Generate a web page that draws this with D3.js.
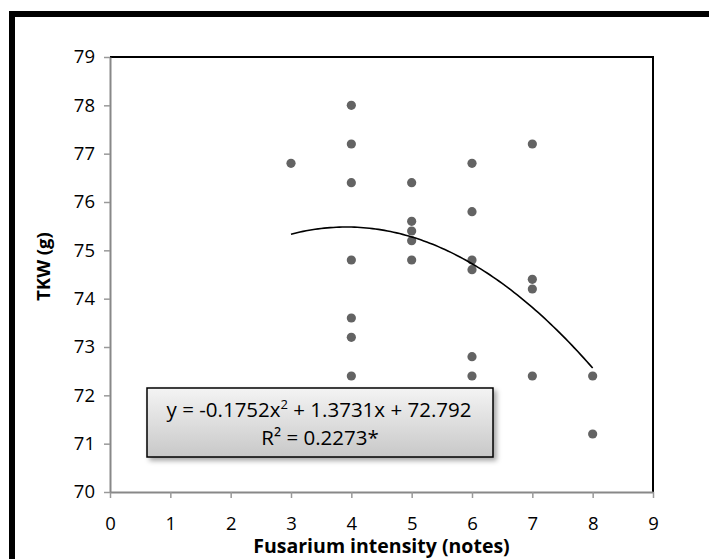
<!DOCTYPE html>
<html lang="en">
<head>
  <meta charset="UTF-8">
  <title>TKW vs Fusarium intensity</title>
  <script src="https://cdn.jsdelivr.net/npm/d3@7"></script>
  <style>
    body { margin: 0; background: #fff; }
    text { font-family: "Open Sans", sans-serif; }
  </style>
</head>
<body>
<svg></svg>
<script>
  const width = 709, height = 559
  const margin = {top: 57, right: 56, bottom: 67, left: 110}

  // observed points (Fusarium note, TKW)
  const notes = [3, 4, 4, 4, 4, 4, 4, 4, 5, 5, 5, 5, 5, 6, 6, 6, 6, 6, 6, 7, 7, 7, 7, 8, 8]
  const tkw = [76.8, 78, 77.2, 76.4, 74.8, 73.6, 73.2, 72.4, 76.4, 75.6, 75.4, 75.2, 74.8,
    76.8, 75.8, 74.8, 74.6, 72.8, 72.4, 77.2, 74.4, 74.2, 72.4, 72.4, 71.2]
  const xTicks = [0, 1, 2, 3, 4, 5, 6, 7, 8, 9]
  const yTicks = [70, 71, 72, 73, 74, 75, 76, 77, 78, 79]
  const coef = [-0.1752, 1.3731, 72.792]
  const fitRange = [3, 8]

  const svg = d3.select('svg')
      .attr('width', width)
      .attr('height', height)

  const x = d3.scaleLinear()
      .domain([0, 9])
      .range([margin.left, width - margin.right])

  const y = d3.scaleLinear()
      .domain([70, 79])
      .range([height - margin.bottom, margin.top])

  // outer frame (top and left edges only are visible)
  svg.append('path')
      .attr('d', `M12,${height} V14 H${width}`)
      .attr('fill', 'none')
      .attr('stroke', '#000')
      .attr('stroke-width', 6)

  // plot area border
  svg.append('path')
      .attr('d', `M${x(0)},${y(79)} H${x(9)} V${y(70)}`)
      .attr('fill', 'none')
      .attr('stroke', '#000')
      .attr('stroke-width', 2)

  const xAxis = svg.append('g')
      .attr('transform', `translate(0,${y(70)})`)
      .call(d3.axisBottom(x).tickValues(xTicks).tickFormat(d3.format('d')).tickSize(6).tickSizeOuter(0).tickPadding(19))

  const yAxis = svg.append('g')
      .attr('transform', `translate(${x(0)},0)`)
      .call(d3.axisLeft(y).tickValues(yTicks).tickFormat(d3.format('d')).tickSize(6).tickSizeOuter(0).tickPadding(9))

  for (const g of [xAxis, yAxis]) {
    g.select('.domain').attr('stroke', '#888').attr('stroke-width', 2)
    g.selectAll('.tick line').attr('stroke', '#999').attr('stroke-width', 1.5)
    g.selectAll('.tick text')
        .attr('fill', '#000')
        .style('font-size', '18.5px')
        .style('font-family', '"Open Sans", sans-serif')
  }

  // points
  svg.append('g')
      .selectAll('circle')
      .data(notes.map((n, i) => [n, tkw[i]]))
      .join('circle')
      .attr('cx', d => x(d[0]))
      .attr('cy', d => y(d[1]))
      .attr('r', 4.6)
      .attr('fill', '#636363')

  // polynomial trend line
  const fx = v => coef[0] * v * v + coef[1] * v + coef[2]
  const xs = d3.range(fitRange[0], fitRange[1] + 0.001, 0.05)
  svg.append('path')
      .datum(xs)
      .attr('fill', 'none')
      .attr('stroke', '#000')
      .attr('stroke-width', 1.6)
      .attr('d', d3.line().x(d => x(d)).y(d => y(fx(d))))

  // equation box
  const defs = svg.append('defs')
  const grad = defs.append('linearGradient')
      .attr('id', 'boxgrad')
      .attr('x1', 0).attr('y1', 0).attr('x2', 0).attr('y2', 1)
  grad.append('stop').attr('offset', '0%').attr('stop-color', '#f4f4f4')
  grad.append('stop').attr('offset', '100%').attr('stop-color', '#c8c8c8')
  const shadow = defs.append('filter').attr('id', 'shadow')
      .attr('x', '-10%').attr('y', '-10%').attr('width', '130%').attr('height', '140%')
  shadow.append('feDropShadow')
      .attr('dx', 3).attr('dy', 3).attr('stdDeviation', 2.5)
      .attr('flood-color', '#000').attr('flood-opacity', 0.35)

  const bx = 147, by = 388, bw = 346, bh = 69
  svg.append('rect')
      .attr('x', bx).attr('y', by)
      .attr('width', bw).attr('height', bh)
      .attr('fill', 'url(#boxgrad)')
      .attr('stroke', '#000')
      .attr('stroke-width', 1.5)
      .attr('filter', 'url(#shadow)')

  const eq = svg.append('text')
      .attr('x', bx + bw / 2 - 1).attr('y', by + 29)
      .attr('text-anchor', 'middle')
      .style('font-size', '20.5px')
  eq.append('tspan').text('y = -0.1752x')
  eq.append('tspan').text('2').attr('dy', -8).style('font-size', '13px')
  eq.append('tspan').text(' + 1.3731x + 72.792').attr('dy', 8)

  svg.append('text')
      .attr('x', bx + bw / 2).attr('y', by + 57)
      .attr('text-anchor', 'middle')
      .style('font-size', '20.5px')
      .text('R² = 0.2273*')

  // axis titles
  svg.append('text')
      .attr('transform', `translate(50,${(y(70) + y(79)) / 2 - 8}) rotate(-90)`)
      .attr('text-anchor', 'middle')
      .style('font-size', '18.5px')
      .style('font-weight', 'bold')
      .text('TKW (g)')

  svg.append('text')
      .attr('x', (x(0) + x(9)) / 2)
      .attr('y', 553)
      .attr('text-anchor', 'middle')
      .style('font-size', '19.5px')
      .style('font-weight', 'bold')
      .text('Fusarium intensity (notes)')
</script>
</body>
</html>
